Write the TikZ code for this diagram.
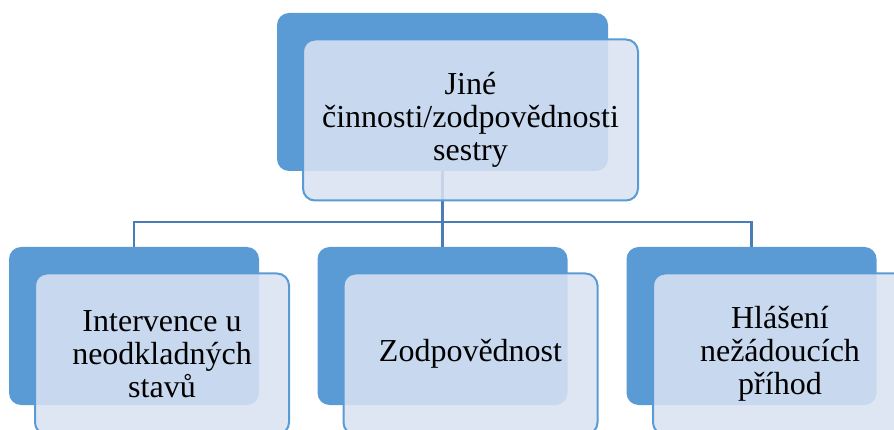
\documentclass[tikz,border=0pt]{standalone}
\usepackage{fontspec}
\setmainfont{Liberation Serif}
\usetikzlibrary{positioning}
\definecolor{accentblue}{HTML}{5B9BD5}
\definecolor{paleblue}{HTML}{D9E2F2}
\definecolor{linkblue}{HTML}{4A7DB8}

\begin{document}
\begin{tikzpicture}[x=1pt, y=-1pt,
  backbox/.style={fill=accentblue, rounded corners=12pt, minimum width=250pt, minimum height=158pt, inner sep=0pt},
  frontbox/.style={draw=accentblue, line width=2pt, fill=paleblue, fill opacity=0.87, text opacity=1, rounded corners=12pt, minimum width=254pt, minimum height=161pt, align=center, font=\rmfamily\fontsize{32}{33}\selectfont, inner sep=0pt},
  conn/.style={draw=linkblue, line width=2.5pt}
]
\clip (0,0) rectangle (894,430);
\useasboundingbox (0,0) rectangle (894,430);
% connectors
\coordinate (fork) at (442.5,222);
\node[minimum width=331pt, minimum height=158pt, inner sep=0pt] (topgap) at (442.5,92) {};
\node[minimum width=250pt, minimum height=158pt, inner sep=0pt] (gap1) at (134,326) {};
\node[minimum width=250pt, minimum height=158pt, inner sep=0pt] (gap2) at (442.5,326) {};
\node[minimum width=250pt, minimum height=158pt, inner sep=0pt] (gap3) at (751.5,326) {};
\draw[conn] (topgap.south) -- (fork);
\draw[conn] (fork) -| ([yshift=-4pt]gap1.north);
\draw[conn] (fork) -- ([yshift=-4pt]gap2.north);
\draw[conn] (fork) -| ([yshift=-4pt]gap3.north);
% back boxes
\node[backbox, minimum width=331pt] (topback) at (topgap) {};
\node[backbox] (back1) at (gap1) {};
\node[backbox] (back2) at (gap2) {};
\node[backbox] (back3) at (gap3) {};
% front boxes
\node[frontbox, minimum width=335pt] (topfront) at (470.5,120) {Jiné\\činnosti/zodpovědnosti\\sestry};
\node[frontbox] (front1) at (162,354) {Intervence u\\neodkladných\\stavů};
\node[frontbox] (front2) at (470.5,354) {Zodpovědnost};
\node[frontbox] (front3) at (780,354) {Hlášení\\nežádoucích\\příhod};
\end{tikzpicture}
\end{document}
